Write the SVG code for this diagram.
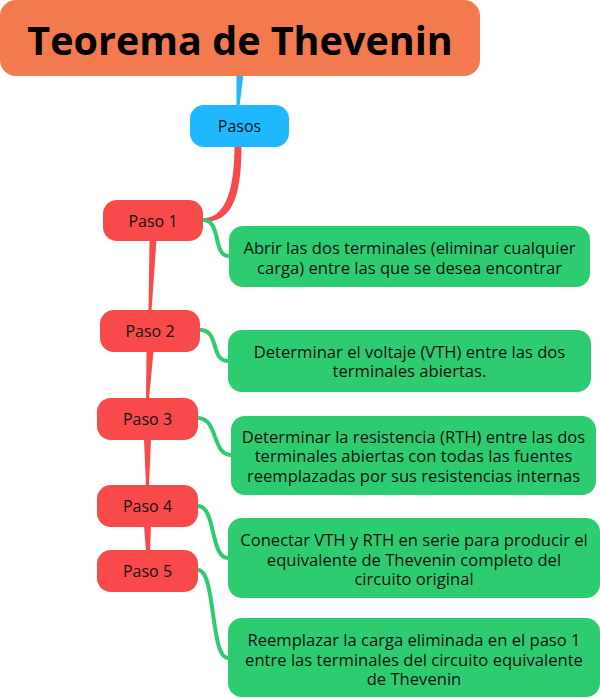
<svg xmlns="http://www.w3.org/2000/svg" width="600" height="698" viewBox="0 0 600 698">
  <style>
    text { font-family: "Open Sans", "Noto Sans", "DejaVu Sans", sans-serif; fill: #111; text-anchor: middle; }
    .title { font-size: 39.5px; font-weight: bold; fill: #000; }
    .lbl { font-size: 16px; }
    .txt { font-size: 16.6px; }
    .root { fill: #F27A4E; }
    .hub { fill: #1FB8FE; }
    .step { fill: #F84A4A; }
    .detail { fill: #2ECC71; }
    .wire-blue { fill: #1FB8FE; }
    .wire-red { fill: #F84A4A; }
    .wire-green { fill: none; stroke: #2ECC71; stroke-width: 4; stroke-linecap: round; }
  </style>

  <!-- connectors -->
  <g id="connectors">
    <path class="wire-blue" d="M236.5,74 L243.5,74 L239.5,106 L236.5,106 Z"/>
    <path class="wire-red" d="M234.5,145 L241.5,145 C241.5,205 229,222 203,221.8 L203,218.2 C222,218 234.5,198 234.5,145 Z"/>
    <path class="wire-red" d="M149.5,240 L156.5,240 L151.5,311 L148.5,311 Z"/>
    <path class="wire-red" d="M146.5,351 L153.5,351 L149,399 L146,399 Z"/>
    <path class="wire-red" d="M144,439 L151,439 L149,486 L146,486 Z"/>
    <path class="wire-red" d="M144,526 L151,526 L150,551 L146,551 Z"/>

    <path class="wire-green" d="M203,220 C222,220 212,256 229,256"/>
    <path class="wire-green" d="M200,330 C220,330 210,361 228,361"/>
    <path class="wire-green" d="M198,418 C218,418 212,455 231,455"/>
    <path class="wire-green" d="M198,506 C216,506 210,558 228,558"/>
    <path class="wire-green" d="M198,570 C216,570 210,658 228,658"/>
  </g>

  <g id="title">
    <rect class="root" x="0" y="0" width="480" height="76" rx="16"/>
    <text class="title" x="240" y="54.5">Teorema de Thevenin</text>
  </g>

  <g id="pasos">
    <rect class="hub" x="190" y="105" width="99" height="42" rx="14"/>
    <text class="lbl" x="239.5" y="132">Pasos</text>
  </g>

  <g id="paso1">
    <rect class="step" x="103" y="200" width="100" height="41" rx="14"/>
    <text class="lbl" x="153" y="227">Paso 1</text>
  </g>
  <g id="paso2">
    <rect class="step" x="100" y="310" width="100" height="42" rx="14"/>
    <text class="lbl" x="150" y="337">Paso 2</text>
  </g>
  <g id="paso3">
    <rect class="step" x="97" y="398" width="101" height="42" rx="14"/>
    <text class="lbl" x="147.5" y="425">Paso 3</text>
  </g>
  <g id="paso4">
    <rect class="step" x="97" y="485" width="101" height="42" rx="14"/>
    <text class="lbl" x="147.5" y="512">Paso 4</text>
  </g>
  <g id="paso5">
    <rect class="step" x="97" y="550" width="101" height="42" rx="14"/>
    <text class="lbl" x="147.5" y="577">Paso 5</text>
  </g>

  <g id="detalle1">
    <rect class="detail" x="229" y="226" width="361" height="61" rx="14"/>
    <text class="txt" x="409.5" y="254">Abrir las dos terminales (eliminar cualquier</text>
    <text class="txt" x="409.5" y="273.5">carga) entre las que se desea encontrar</text>
  </g>
  <g id="detalle2">
    <rect class="detail" x="228" y="330" width="363" height="62" rx="14"/>
    <text class="txt" x="409.5" y="357.5">Determinar el voltaje (VTH) entre las dos</text>
    <text class="txt" x="409.5" y="377">terminales abiertas.</text>
  </g>
  <g id="detalle3">
    <rect class="detail" x="231" y="416" width="365" height="79" rx="14"/>
    <text class="txt" x="413.5" y="442.5">Determinar la resistencia (RTH) entre las dos</text>
    <text class="txt" x="413.5" y="462">terminales abiertas con todas las fuentes</text>
    <text class="txt" x="413.5" y="481.5">reemplazadas por sus resistencias internas</text>
  </g>
  <g id="detalle4">
    <rect class="detail" x="228" y="518" width="372" height="80" rx="14"/>
    <text class="txt" x="414" y="546">Conectar VTH y RTH en serie para producir el</text>
    <text class="txt" x="414" y="565.5">equivalente de Thevenin completo del</text>
    <text class="txt" x="414" y="585">circuito original</text>
  </g>
  <g id="detalle5">
    <rect class="detail" x="228" y="618" width="372" height="79" rx="14"/>
    <text class="txt" x="414" y="646">Reemplazar la carga eliminada en el paso 1</text>
    <text class="txt" x="414" y="665.5">entre las terminales del circuito equivalente</text>
    <text class="txt" x="414" y="685">de Thevenin</text>
  </g>
</svg>
